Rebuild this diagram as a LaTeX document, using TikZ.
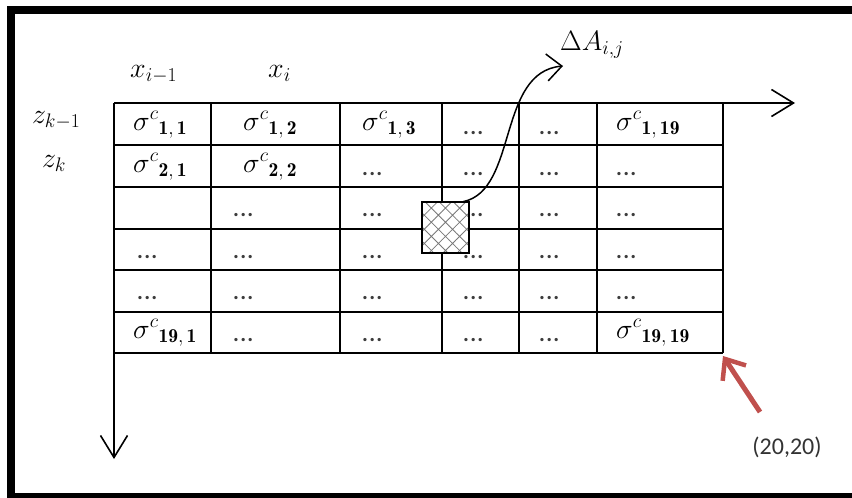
\RequirePackage{fix-cm}
\documentclass[tikz,border=0pt]{standalone}
\usepackage{fontspec}
\newfontfamily\calib{Carlito}
\usetikzlibrary{arrows.meta,patterns.meta}
\definecolor{arrowred}{RGB}{192,80,77}
\definecolor{dotgray}{RGB}{60,60,60}
\definecolor{hatchgray}{RGB}{120,120,120}
\newcommand\sigc[2]{${\sigma^{c}}_{\mathbf{#1},\,\mathbf{#2}}$}
\newcommand\celldotstext{.\kern1.2pt.\kern1.2pt.}
\begin{document}
\begin{tikzpicture}[x=1pt,y=-1pt,
  gridline/.style={line width=1.8pt},
  frame/.style={fill=black},
  axis/.style={line width=1.6pt,-{Straight Barb[length=22pt,width=27pt,line width=1.6pt]}},
  curvearrow/.style={line width=1.5pt,-{Straight Barb[length=15pt,width=27pt,line width=1.5pt]}},
  redarrow/.style={draw=arrowred,line width=5pt,-{Straight Barb[length=17pt,width=28pt,line width=4.5pt]}},
  cellmath/.style={anchor=base west,inner sep=0pt,font=\fontsize{28}{32}\selectfont},
  celldots/.style={anchor=base west,inner sep=0pt,font=\calib\bfseries\fontsize{22}{26}\selectfont,text=dotgray},
  lbl/.style={anchor=base west,inner sep=0pt,font=\fontsize{28}{32}\selectfont},
  note/.style={inner sep=0pt,font=\calib\fontsize{24}{28}\selectfont,text=black!80}]
\useasboundingbox (0,0) rectangle (852,498);
% frame
\fill[frame] (7,6) rectangle (852,14);
\fill[frame] (7,6) rectangle (15,498);
\fill[frame] (7,493) rectangle (852,498);
% grid
\foreach \y in {145,187,229,270,312,353} \draw[gridline] (114,\y) -- (723,\y);
\foreach \x in {211,340,442,519,597,723} \draw[gridline] (\x,103) -- (\x,353);
% axes
\coordinate (O) at (114,103);
\coordinate (xend) at (795,103);
\coordinate (zend) at (114,459);
\draw[axis] (O) -- (xend);
\draw[axis] (O) -- (zend);
% axis labels
\node[lbl] (xim) at (130,77) {$x_{i-1}$};
\node[lbl] (xi) at (268,77) {$x_{i}$};
\node[lbl] (zkm) at (32,123) {$z_{k-1}$};
\node[lbl] (zk) at (42,167) {$z_{k}$};
% row 1
\node[cellmath] (c11) at (133,130) {\sigc{1}{1}};
\node[cellmath] (c12) at (243,130) {\sigc{1}{2}};
\node[cellmath] (c13) at (362,130) {\sigc{1}{3}};
\node[celldots] (c14) at (463,134) {\celldotstext};
\node[celldots] (c15) at (539,134) {\celldotstext};
\node[cellmath] (c16) at (616,130) {\sigc{1}{19}};
% row 2
\node[cellmath] (c21) at (133,172) {\sigc{2}{1}};
\node[cellmath] (c22) at (243,172) {\sigc{2}{2}};
\node[celldots] (c23) at (362,175) {\celldotstext};
\node[celldots] (c24) at (463,175) {\celldotstext};
\node[celldots] (c25) at (539,175) {\celldotstext};
\node[celldots] (c26) at (616,175) {\celldotstext};
% row 3
\node[celldots] (c32) at (233,216) {\celldotstext};
\node[celldots] (c33) at (362,216) {\celldotstext};
\node[celldots] (c34) at (463,216) {\celldotstext};
\node[celldots] (c35) at (539,216) {\celldotstext};
\node[celldots] (c36) at (616,216) {\celldotstext};
% row 4
\node[celldots] (c41) at (137,258) {\celldotstext};
\node[celldots] (c42) at (233,258) {\celldotstext};
\node[celldots] (c43) at (362,258) {\celldotstext};
\node[celldots] (c44) at (463,258) {\celldotstext};
\node[celldots] (c45) at (539,258) {\celldotstext};
\node[celldots] (c46) at (616,258) {\celldotstext};
% row 5
\node[celldots] (c51) at (137,299) {\celldotstext};
\node[celldots] (c52) at (233,299) {\celldotstext};
\node[celldots] (c53) at (362,299) {\celldotstext};
\node[celldots] (c54) at (463,299) {\celldotstext};
\node[celldots] (c55) at (539,299) {\celldotstext};
\node[celldots] (c56) at (616,299) {\celldotstext};
% row 6
\node[cellmath] (c61) at (133,338) {\sigc{19}{1}};
\node[celldots] (c62) at (233,341) {\celldotstext};
\node[celldots] (c63) at (362,341) {\celldotstext};
\node[celldots] (c64) at (463,341) {\celldotstext};
\node[celldots] (c65) at (539,341) {\celldotstext};
\node[cellmath] (c66) at (616,338) {\sigc{19}{19}};
% hatched element
\node[draw,line width=1.6pt,minimum width=47pt,minimum height=51pt,inner sep=0pt,
      preaction={fill=white},
      pattern={Hatch[angle=45,distance=10pt,line width=0.8pt]},pattern color=hatchgray]
      (sq) at (445.5,227.5) {};
\coordinate (dAtip) at (563,66);
\node[lbl] (dA) at (560,50) {$\Delta A_{i,j}$};
\draw[curvearrow] ([xshift=-6pt]sq.north east) .. controls (518,190) and (497,72) .. (dAtip);
% red arrow
\coordinate (corner) at (723,356);
\coordinate (redstart) at (760,412);
\draw[redarrow] (redstart) -- (corner);
\node[note] (pt) at (787,447) {(20,20)};
\end{tikzpicture}
\end{document}
